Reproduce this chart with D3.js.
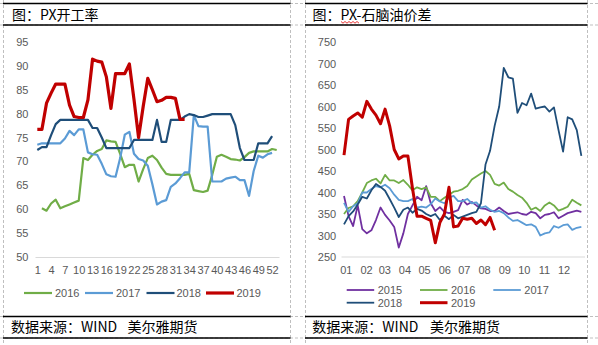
<!DOCTYPE html>
<html><head><meta charset="utf-8">
<script src="https://cdn.jsdelivr.net/npm/d3@7/dist/d3.min.js"></script>
<style>
body{margin:0;background:#fff;}
svg{display:block;}
.cn{font-family:"Noto Sans CJK SC","Noto Sans",sans-serif;font-size:14px;fill:#000;}
.num{font-family:"Liberation Sans",Arial,sans-serif;font-size:11px;fill:#595959;}
</style></head>
<body>
<svg id="c" width="598" height="345"></svg>
<script>
// ---------- Left chart: PX operating rate (weekly, %) ----------
const weeks = d3.range(1, 54);
const weekTicks = d3.range(1, 53, 3);
const rate2016 = [null,60.2,59.7,61.2,62.0,60.2,60.6,61.0,61.4,61.8,70.7,70.3,71.4,72.2,72.6,74.4,74.2,74.1,71.6,68.8,69.3,69.3,65.8,68.4,70.7,71.2,70.3,68.7,67.4,67.2,67.2,67.2,67.2,67.4,64.0,63.8,63.6,63.9,67.2,71.0,71.4,71.0,70.5,70.4,70.2,70.9,71.8,72.1,72.1,72.1,72.1,72.6,72.4];
const rate2017 = [73.5,73.8,73.8,73.8,73.8,73.8,74.8,76.4,75.5,76.7,76.7,71.9,71.5,71.4,69.5,67.3,66.9,66.8,70.7,75.6,76.2,71.6,70.5,70.2,69.1,65.2,61.0,61.6,61.9,64.7,65.4,66.5,67.7,67.7,79.7,77.4,77.3,77.3,65.8,65.8,65.8,66.4,66.6,66.8,66.1,66.1,62.8,68.0,71.2,70.8,71.5,71.8];
const rate2018 = [72.4,73.0,73.0,75.5,77.8,78.7,78.7,78.7,78.7,78.7,78.7,78.7,77.0,77.0,75.0,72.8,72.8,72.8,72.8,72.8,72.8,74.5,74.5,74.5,74.5,74.5,78.7,74.1,74.1,78.7,78.7,78.7,79.4,79.9,79.7,79.3,79.3,79.6,79.9,79.9,79.9,79.9,79.9,77.6,72.8,70.3,70.3,70.3,73.8,73.8,73.8,75.3];
const rate2019 = [76.7,76.7,82.2,84.3,86.2,86.2,86.2,81.8,79.4,79.2,79.2,82.9,91.4,91.0,90.8,87.7,81.1,88.4,88.4,88.4,90.4,83.0,75.0,81.5,87.4,85.0,82.5,82.8,83.4,83.4,83.2,78.8,78.8];
const rateTicks = d3.range(50, 96, 5);

// ---------- Right chart: PX - naphtha spread (weekly samples, USD/t) ----------
const monthLabels = ["01","02","03","04","05","06","07","08","09","10","11","12"];
const monthStartDays = [0,31,59,90,120,151,181,212,243,273,304,334];
const spread2015 = [392,345,322,370,315,305,312,336,365,348,335,320,272,305,350,370,390,382,415,375,357,366,355,352,355,359,383,372,378,370,363,362,357,357,365,357,350,352,354,350,348,355,352,340,348,350,354,340,346,352,355,358,355];
const spread2016 = [350,364,368,380,400,422,428,432,421,441,428,428,422,429,418,405,412,408,412,390,390,380,388,395,402,404,408,415,430,437,444,450,441,420,416,423,408,402,394,388,376,360,365,357,370,377,370,358,362,367,383,376,370];
const spread2017 = [376,355,368,375,400,400,408,415,412,418,410,395,383,380,380,385,365,367,365,373,386,379,375,388,392,380,380,385,375,377,365,368,360,355,357,352,342,334,336,330,324,326,320,300,305,307,322,318,324,326,313,318,320];
const spread2018 = [326,345,356,372,390,386,405,420,413,404,385,365,343,360,365,353,362,358,350,345,350,336,346,338,348,340,344,348,352,355,375,465,497,555,600,690,668,665,585,608,603,630,595,598,600,588,598,545,495,575,570,545,485];
const spread2019 = [487,570,578,585,575,612,594,580,560,594,555,500,478,485,485,410,345,345,340,335,283,330,350,412,320,322,340,338,340,328,336,325,342,312];
const spreadTicks = d3.range(250, 751, 50);
const sampleStepDays = 7;

const svg = d3.select("#c");

// ---------- frame ----------
const frame = svg.append("g");
const dash = {stroke:"#BFBFBF", "stroke-width":1, "stroke-dasharray":"3,2"};
function dl(x1,y1,x2,y2){const l=frame.append("line").attr("x1",x1).attr("y1",y1).attr("x2",x2).attr("y2",y2);for(const k in dash)l.attr(k,dash[k]);}
[3.5,25,316.5,338].forEach(y=>dl(0,y,598,y));
[3.5,290.5,305.5,587.5].forEach(x=>dl(x,0,x,345));
function sl(x1,x2,y){frame.append("line").attr("x1",x1).attr("x2",x2).attr("y1",y).attr("y2",y).attr("stroke","#000").attr("stroke-width",1.5);}
[3.5,25,316.5,338].forEach(y=>{sl(3,290.5,y);sl(305,587.5,y);});

svg.append("text").attr("class","cn").attr("x",12).attr("y",19.5).text("图：PX开工率");
svg.append("text").attr("class","cn").attr("x",312.5).attr("y",19.5).text("图：PX-石脑油价差");
// spell-check squiggle under "PX"
const sq = d3.path(); sq.moveTo(341,21.5);
for(let i=1;i<=9;i++){sq.lineTo(341+i*2, i%2?23.2:21.5);}
svg.append("path").attr("d",sq.toString()).attr("fill","none").attr("stroke","#E00000").attr("stroke-width",0.8);

svg.append("text").attr("class","cn").attr("x",11).attr("y",332).text("数据来源：WIND");
svg.append("text").attr("class","cn").attr("x",127.5).attr("y",332).text("美尔雅期货");
svg.append("text").attr("class","cn").attr("x",312.3).attr("y",332).text("数据来源：WIND");
svg.append("text").attr("class","cn").attr("x",430).attr("y",332).text("美尔雅期货");

// ---------- left chart ----------
const xL = d3.scalePoint().domain(weeks).range([35,279]).padding(0.5);
const yL = d3.scaleLinear().domain([50,95]).range([257,42]);
const gL = svg.append("g");
const axL = gL.append("g").attr("transform","translate(35,0)")
  .call(d3.axisLeft(yL).tickValues(rateTicks).tickSize(0).tickPadding(6.5));
axL.select(".domain").remove();
const axLB = gL.append("g").attr("transform","translate(0,257)")
  .call(d3.axisBottom(xL).tickValues(weekTicks).tickSize(0).tickPadding(9));
axLB.select(".domain").attr("stroke","#D9D9D9");
gL.selectAll(".tick text").attr("class","num").attr("font-family",null).attr("font-size",null).attr("fill",null);

const seriesL = [
  {name:"2016", data:rate2016, color:"#70AD47", w:2.2},
  {name:"2017", data:rate2017, color:"#5B9BD5", w:2.2},
  {name:"2018", data:rate2018, color:"#1F4E79", w:2.2},
  {name:"2019", data:rate2019, color:"#C00000", w:3.2}
];
const lineL = d3.line().defined(d=>d[1]!=null).x(d=>xL(d[0])).y(d=>yL(d[1]));
seriesL.forEach(s=>{
  gL.append("path").datum(s.data.map((v,i)=>[weeks[i],v]))
    .attr("d",lineL).attr("fill","none").attr("stroke",s.color)
    .attr("stroke-width",s.w).attr("stroke-linejoin","round");
});
const legL = [[24,55],[85,116],[146.5,176.5],[206,236.5]];
seriesL.forEach((s,i)=>{
  gL.append("line").attr("x1",legL[i][0]).attr("x2",legL[i][0]+28).attr("y1",293).attr("y2",293)
    .attr("stroke",s.color).attr("stroke-width",s.w);
  gL.append("text").attr("class","num").attr("x",legL[i][1]).attr("y",297).text(s.name);
});

// ---------- right chart ----------
const xR = d3.scaleLinear().domain([0,365]).range([344,582]);
const yR = d3.scaleLinear().domain([250,750]).range([257,42]);
const gR = svg.append("g");
const axR = gR.append("g").attr("transform","translate(341.7,0)")
  .call(d3.axisLeft(yR).tickValues(spreadTicks).tickSize(0).tickPadding(5.5));
axR.select(".domain").remove();
gR.append("line").attr("x1",xR(0)-2.5).attr("x2",xR(365)+3).attr("y1",257).attr("y2",257).attr("stroke","#D9D9D9");
const axRB = gR.append("g").attr("transform","translate(0,257)")
  .call(d3.axisBottom(xR).tickValues(monthStartDays).tickFormat((d,i)=>monthLabels[i]).tickSize(0).tickPadding(9));
axRB.select(".domain").remove();
axRB.selectAll(".tick text").attr("dx",1.8);
gR.selectAll(".tick text").attr("class","num").attr("font-family",null).attr("font-size",null).attr("fill",null);

const seriesR = [
  {name:"2015", data:spread2015, color:"#7030A0", w:1.8},
  {name:"2016", data:spread2016, color:"#70AD47", w:1.8},
  {name:"2017", data:spread2017, color:"#5B9BD5", w:1.8},
  {name:"2018", data:spread2018, color:"#1F4E79", w:1.8},
  {name:"2019", data:spread2019, color:"#C00000", w:3}
];
const lineR = d3.line().x(d=>xR(d[0])).y(d=>yR(d[1]));
seriesR.forEach(s=>{
  gR.append("path").datum(s.data.map((v,i)=>[i*sampleStepDays,v]))
    .attr("d",lineR).attr("fill","none").attr("stroke",s.color)
    .attr("stroke-width",s.w).attr("stroke-linejoin","round");
});
const legR = [[346.7,290],[420,290],[493.3,290],[346.7,302.7],[420,302.7]];
seriesR.forEach((s,i)=>{
  const [lx,ly]=legR[i];
  gR.append("line").attr("x1",lx).attr("x2",lx+27.5).attr("y1",ly).attr("y2",ly)
    .attr("stroke",s.color).attr("stroke-width",s.w);
  gR.append("text").attr("class","num").attr("x",lx+31).attr("y",ly+4).text(s.name);
});
</script>
</body></html>
